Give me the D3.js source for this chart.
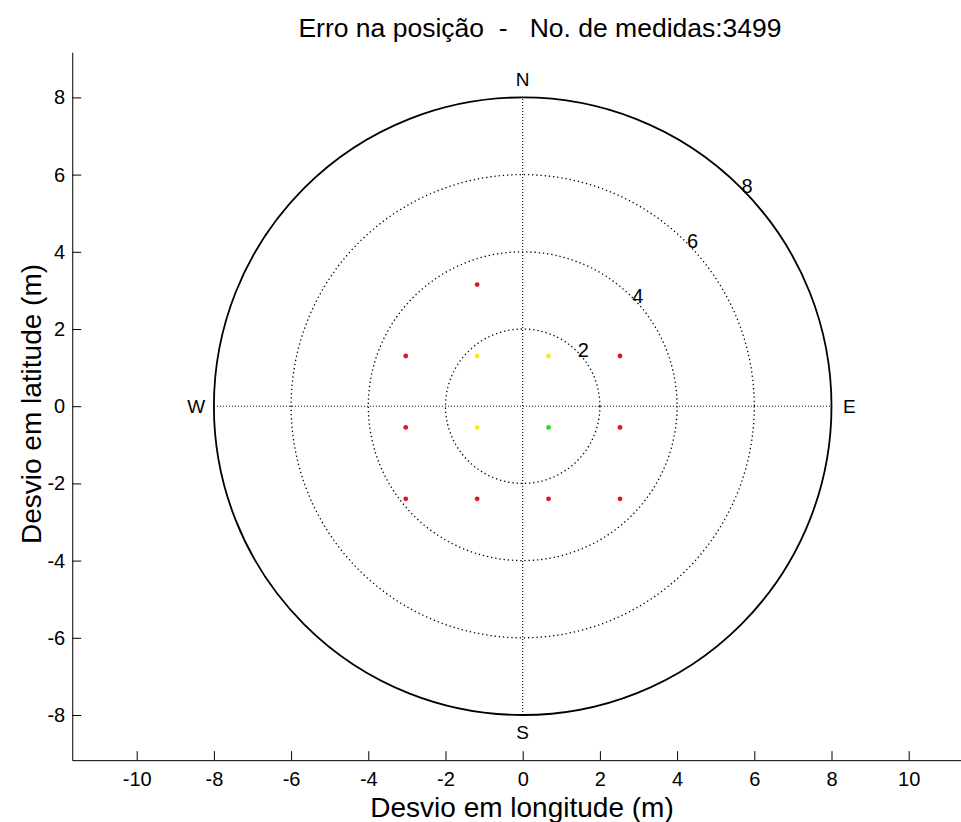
<!DOCTYPE html>
<html>
<head>
<meta charset="utf-8">
<script src="https://cdn.jsdelivr.net/npm/d3@7"></script>
<style>
  body { margin: 0; background: #fff; }
  svg { display: block; font-family: "Liberation Sans", Arial, sans-serif; }
</style>
</head>
<body>
<svg id="chart" width="961" height="822"></svg>
<script>
// ---- data ----
const titleText = "Erro na posição  -   No. de medidas:3499";
const xLabelText = "Desvio em longitude (m)";
const yLabelText = "Desvio em latitude (m)";
const xTicks = [-10, -8, -6, -4, -2, 0, 2, 4, 6, 8, 10];
const yTicks = [-8, -6, -4, -2, 0, 2, 4, 6, 8];
const ringRadii = [2, 4, 6, 8];
const ringLabels = ["2", "4", "6", "8"];
const compassLabels = ["N", "E", "S", "W"];
const compassAngles = [90, 0, 270, 180];
const pointX = [-1.18, -3.03, -1.18, 0.67, 2.52, -3.03, -1.18, 0.67, 2.52, -3.03, -1.18, 0.67, 2.52];
const pointY = [3.15, 1.30, 1.30, 1.30, 1.30, -0.55, -0.55, -0.55, -0.55, -2.40, -2.40, -2.40, -2.40];
const pointClass = ["red", "red", "yellow", "yellow", "red", "red", "yellow", "green", "red", "red", "red", "red", "red"];

// ---- layout ----
const svg = d3.select("#chart");
svg.append("rect").attr("width", 961).attr("height", 822).attr("fill", "#fff");

const unit = 38.6;
const cx = 522.7, cy = 406.2;
const xMax = 11.67, yMax = 9.17;
const x = d3.scaleLinear().domain([-xMax, xMax]).range([cx - xMax * unit, cx + xMax * unit]);
const y = d3.scaleLinear().domain([-yMax, yMax]).range([cy + yMax * unit, cy - yMax * unit]);
const colorMap = { red: "#e3132f", yellow: "#f3ee14", green: "#1de21d" };

// rings
const rOuter = ringRadii[ringRadii.length - 1];
svg.append("g").selectAll("circle").data(ringRadii).join("circle")
  .attr("cx", x(0)).attr("cy", y(0))
  .attr("r", d => x(d) - x(0))
  .attr("fill", "none")
  .attr("stroke", "#000")
  .attr("stroke-width", d => d === rOuter ? 1.8 : 1.3)
  .attr("stroke-dasharray", d => d === rOuter ? null : "1.3,2.9");

// cross lines
svg.append("line").attr("x1", x(-rOuter)).attr("x2", x(rOuter)).attr("y1", y(0)).attr("y2", y(0))
  .attr("stroke", "#000").attr("stroke-width", 1.1).attr("stroke-dasharray", "1,2");
svg.append("line").attr("x1", x(0)).attr("x2", x(0)).attr("y1", y(-rOuter)).attr("y2", y(rOuter))
  .attr("stroke", "#000").attr("stroke-width", 1.1).attr("stroke-dasharray", "1,2");

// ring labels at 45 deg
svg.append("g").selectAll("text").data(ringRadii).join("text")
  .attr("x", d => x(d * Math.cos(Math.PI / 4)) + 6)
  .attr("y", d => y(d * Math.sin(Math.PI / 4)) - 1.5)
  .attr("text-anchor", "middle").attr("dominant-baseline", "central")
  .attr("font-size", 20).attr("fill", "#000")
  .text((d, i) => ringLabels[i]);

// compass labels
const compassOffset = 0.46;
svg.append("g").selectAll("text").data(compassLabels).join("text")
  .attr("x", (d, i) => x((rOuter + compassOffset) * Math.cos(compassAngles[i] * Math.PI / 180)))
  .attr("y", (d, i) => y((rOuter + compassOffset) * Math.sin(compassAngles[i] * Math.PI / 180)))
  .attr("text-anchor", "middle").attr("dominant-baseline", "central")
  .attr("font-size", 19).attr("fill", "#000")
  .text(d => d);

// points
svg.append("g").selectAll("circle").data(pointX).join("circle")
  .attr("cx", d => x(d))
  .attr("cy", (d, i) => y(pointY[i]))
  .attr("r", 2.4)
  .attr("fill", (d, i) => colorMap[pointClass[i]]);

// axes
const xAxis = svg.append("g").attr("transform", `translate(0,${y(-yMax)})`)
  .call(d3.axisBottom(x).tickValues(xTicks).tickFormat(d3.format("d")).tickSize(-9).tickSizeOuter(0).tickPadding(12));
const yAxis = svg.append("g").attr("transform", `translate(${x(-xMax)},0)`)
  .call(d3.axisLeft(y).tickValues(yTicks).tickFormat(d3.format("d")).tickSize(-9).tickSizeOuter(0).tickPadding(7));
[xAxis, yAxis].forEach(g => {
  g.selectAll("text").attr("font-size", 20).attr("fill", "#000").attr("font-family", "Liberation Sans, Arial, sans-serif");
  g.selectAll("line").attr("stroke", "#000");
  g.select(".domain").attr("stroke", "#000");
});
xAxis.selectAll("text").text(d => d < 0 ? "-" + Math.abs(d) : d);
yAxis.selectAll("text").text(d => d < 0 ? "-" + Math.abs(d) : d);

// labels
svg.append("text").attr("x", 540).attr("y", 37).attr("text-anchor", "middle")
  .attr("font-size", 26.5).attr("fill", "#000").attr("xml:space", "preserve").style("white-space", "pre")
  .text(titleText);
svg.append("text").attr("x", 522).attr("y", 817).attr("text-anchor", "middle")
  .attr("font-size", 28).attr("fill", "#000")
  .text(xLabelText);
svg.append("text").attr("transform", "translate(41,404) rotate(-90)").attr("text-anchor", "middle")
  .attr("font-size", 28).attr("fill", "#000")
  .text(yLabelText);
</script>
</body>
</html>
